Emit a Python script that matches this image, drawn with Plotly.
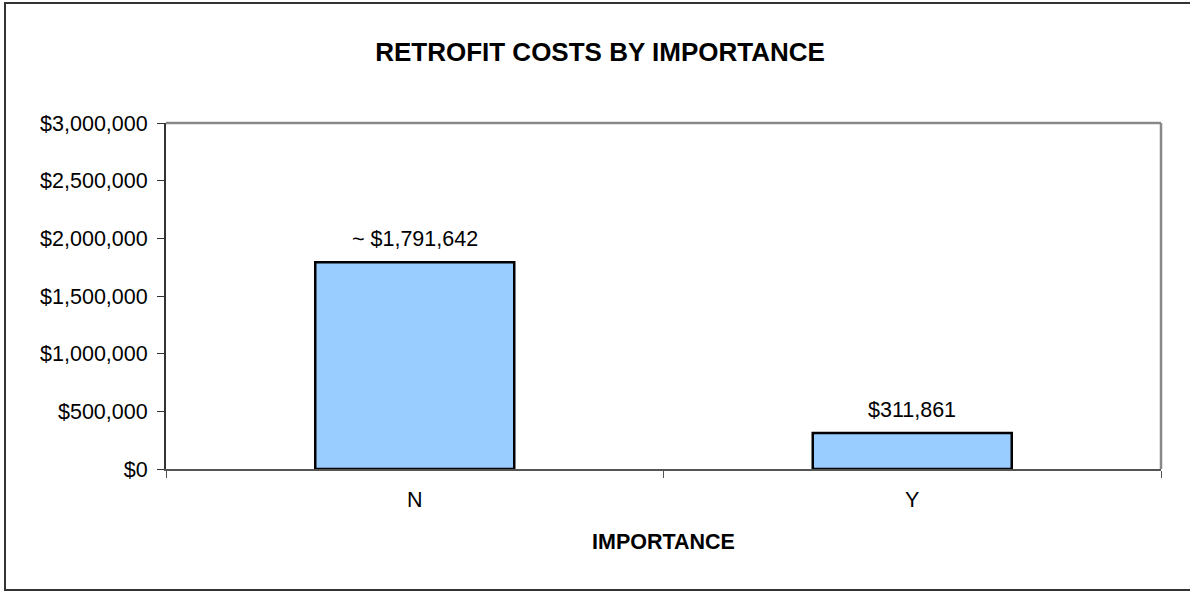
import plotly.graph_objects as go

categories = ["N", "Y"]
costs = [1791642, 311861]
bar_labels = ["~ $1,791,642", "$311,861"]
y_tickvals = [0, 500000, 1000000, 1500000, 2000000, 2500000, 3000000]
y_ticktext = ["$0", "$500,000", "$1,000,000", "$1,500,000", "$2,000,000", "$2,500,000", "$3,000,000"]

FONT = "Arial, Liberation Sans, sans-serif"

fig = go.Figure()
fig.add_trace(go.Bar(
    x=categories, y=costs,
    marker=dict(color="#99CCFF", line=dict(color="black", width=2.5)),
    width=0.4,
))

for cat, val, lab in zip(categories, costs, bar_labels):
    fig.add_annotation(x=cat, y=val, text=lab, showarrow=False,
                       xanchor="center", yanchor="middle", yshift=23,
                       font=dict(family=FONT, size=21.5, color="black"))

fig.update_layout(
    width=1190, height=592,
    margin=dict(l=166, r=29, t=123, b=123),
    paper_bgcolor="white", plot_bgcolor="white",
    showlegend=False,
    font=dict(family=FONT, color="black"),
    title=dict(text="<b>RETROFIT COSTS BY IMPORTANCE</b>", x=600 / 1190, xanchor="center",
               y=1 - 52 / 592, yanchor="middle", yref="container",
               font=dict(family=FONT, size=26, color="black")),
)

fig.update_xaxes(
    type="category", tickson="boundaries", ticks="outside", ticklen=7, tickcolor="#555555",
    showline=True, linecolor="#555555", linewidth=2, showgrid=False,
    tickfont=dict(family=FONT, size=21.5, color="black"), ticklabelstandoff=10,
    range=[-0.5, 1.5],
)
fig.update_yaxes(
    range=[0, 3000000], tickvals=y_tickvals, ticktext=y_ticktext,
    ticks="outside", ticklen=7, tickcolor="#333333",
    showline=True, linecolor="#333333", linewidth=2, showgrid=False, zeroline=False,
    tickfont=dict(family=FONT, size=21.5, color="black"), ticklabelstandoff=5,
)

# plot area top/right border (gray)
fig.add_shape(type="line", xref="paper", yref="paper", x0=0, x1=1, y0=1, y1=1,
              line=dict(color="#888888", width=2.5))
fig.add_shape(type="line", xref="paper", yref="paper", x0=1, x1=1, y0=0, y1=1,
              line=dict(color="#888888", width=2.5))

# outer chart border
pw, ph = 995.0, 346.0
fig.add_shape(type="rect", xref="paper", yref="paper",
              x0=(5 - 166) / pw, x1=(1195 - 166) / pw,
              y0=(469 - 590) / ph, y1=(469 - 3) / ph,
              line=dict(color="#333333", width=2), fillcolor="rgba(0,0,0,0)", layer="below")

# x-axis title
fig.add_annotation(text="<b>IMPORTANCE</b>", xref="paper", yref="paper",
                   x=0.5, y=(469 - 542) / ph, xanchor="center", yanchor="middle",
                   showarrow=False, font=dict(family=FONT, size=21.5, color="black"))

fig.write_html("out.html", config={"displayModeBar": False},
               post_script="document.body.style.margin='0';document.body.style.overflow='hidden';")
